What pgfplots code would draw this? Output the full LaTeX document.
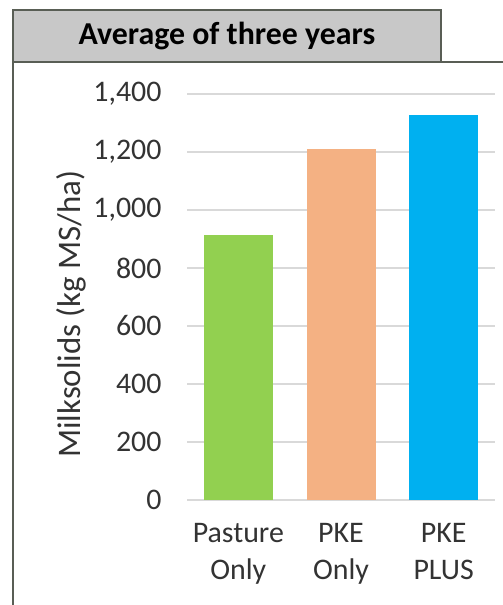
\documentclass[border=0pt]{standalone}
\usepackage{pgfplots}
\pgfplotsset{compat=1.18}
\usepackage{fontspec}
\setmainfont{Carlito}

\definecolor{barGreen}{HTML}{92D050}
\definecolor{barOrange}{HTML}{F4B183}
\definecolor{barBlue}{HTML}{00B0F0}
\definecolor{gridGray}{HTML}{D9D9D9}
\definecolor{frameGray}{HTML}{595E55}
\definecolor{titleFill}{HTML}{C8C8C8}
\definecolor{txtGray}{HTML}{333333}

\begin{document}
\begin{tikzpicture}[x=1bp,y=1bp]
    % page frame: 503 x 605 px, y measured from the top
    \path[use as bounding box] (0,0) rectangle (503,605);
    \draw[frameGray, line width=2bp, fill=titleFill] (13,595) rectangle (441,543);
    \draw[frameGray, line width=2bp] (13,543) -- (13,-2);
    \draw[frameGray, line width=2bp] (441,543) -- (505,543);
    \node[font=\fontsize{32}{36}\selectfont\bfseries, text=black] at (227,569) {Average of three years};

    \begin{axis}[
        at={(187bp,105bp)}, anchor=south west,
        scale only axis, width=308bp, height=406bp,
        xmin=-0.5, xmax=2.5, ymin=0, ymax=1400,
        axis line style={draw=none},
        xtick={0,1,2},
        xticklabels={Pasture\\Only, PKE\\Only, PKE\\PLUS},
        ytick={0,200,...,1400},
        major tick length=0pt,
        ymajorgrids,
        grid style={gridGray, line width=1.5bp},
        /pgf/number format/assume math mode=true,
        /pgf/number format/1000 sep={,},
        ticklabel style={font=\fontsize{30}{37}\selectfont, text=txtGray},
        yticklabel style={xshift=-22bp},
        xticklabel style={align=center, yshift=-20bp},
        ylabel={Milksolids (kg MS/ha)},
        ylabel style={font=\fontsize{33}{38}\selectfont, text=txtGray},
        every axis y label/.append style={at={(ticklabel cs:0.5)}, xshift=-17bp},
        ybar, bar width=69bp,
    ]
        \addplot[fill=barGreen, draw=none, bar shift=0pt] coordinates {(0,914)};
        \addplot[fill=barOrange, draw=none, bar shift=0pt] coordinates {(1,1210)};
        \addplot[fill=barBlue, draw=none, bar shift=0pt] coordinates {(2,1326)};
    \end{axis}
\end{tikzpicture}
\end{document}
